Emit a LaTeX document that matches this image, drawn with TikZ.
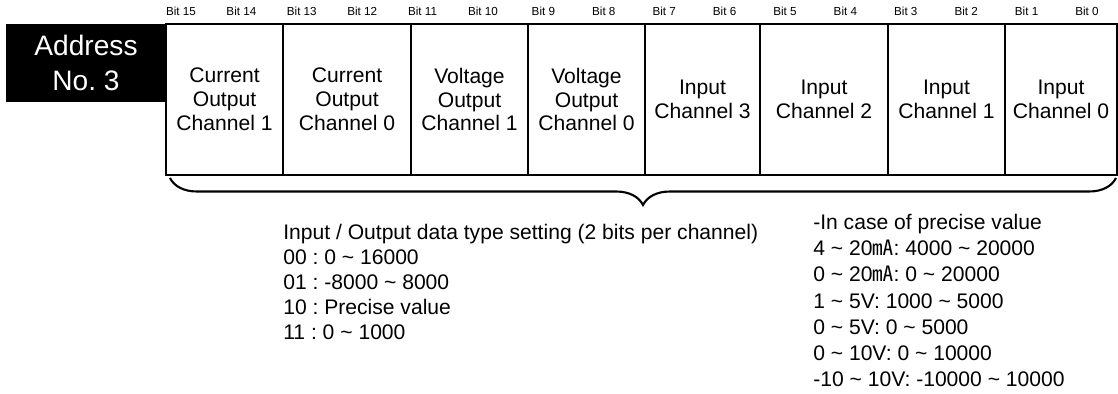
\documentclass[tikz,border=0pt]{standalone}
\usepackage{fontspec}
\setmainfont{Liberation Sans}
\newfontfamily\cjk{Noto Sans CJK KR}
\usetikzlibrary{decorations.pathreplacing}
\frenchspacing

\begin{document}
\begin{tikzpicture}[
    x=0.025cm, y=-0.025cm,
    regCellStyle/.style={draw, line width=0.8pt, inner sep=0pt, align=center,
        minimum height=151*0.025cm, font=\fontsize{15}{17}\selectfont},
    regBitStyle/.style={inner sep=0pt, font=\fontsize{8.3}{9}\selectfont},
    regAddrStyle/.style={fill=black, text=white, inner sep=0pt, align=center,
        minimum width=160*0.025cm, minimum height=78*0.025cm,
        font=\fontsize{20}{25}\selectfont},
    regNoteStyle/.style={align=left, inner sep=0pt, anchor=north west},
    regBraceStyle/.style={decorate, decoration={brace, mirror, amplitude=0.675cm},
        line width=1.5pt}
]
    \useasboundingbox (0,0) rectangle (1118,394);

    % --- Address ---
    \node[regAddrStyle] (addr) at (86,63) {Address\\No. 3};

    % --- register cells ---
    \foreach \l/\r/\txt [count=\i] in {
        166/283/{Current\\Output\\Channel 1},
        283/411/{Current\\Output\\Channel 0},
        411/528/{Voltage\\Output\\Channel 1},
        528/645/{Voltage\\Output\\Channel 0},
        645/760/{Input\\Channel 3},
        760/888/{Input\\Channel 2},
        888/1005/{Input\\Channel 1},
        1005/1117/{Input\\Channel 0}} {
        \pgfmathsetmacro\w{(\r-\l)*0.025}
        \node[regCellStyle, minimum width=\w cm] (cell\i) at ({(\l+\r)/2},99.5) {\txt};
    }

    % bit numbers
    \foreach \b in {0,...,15}
        \node[regBitStyle] (bit\b) at ({1087-60.4*\b},11) {Bit \b};

    % brace
    \coordinate (braceL) at (170,178);
    \coordinate (braceR) at (1116,178);
    \draw[regBraceStyle] (braceL) -- (braceR);

    % --- notes ---
    \node[regNoteStyle, font=\fontsize{15}{17.8}\selectfont] (typeNote) at (283,224)
        {Input / Output data type setting (2 bits per channel)\\
         00 : 0 \textasciitilde{} 16000\\
         01 : -8000 \textasciitilde{} 8000\\
         10 : Precise value\\
         11 : 0 \textasciitilde{} 1000};
    \node[regNoteStyle, font=\fontsize{15}{18.6}\selectfont] (rangeNote) at (813,214)
        {-In case of precise value\\
         4 \textasciitilde{} 20{\cjk ㎃}: 4000 \textasciitilde{} 20000\\
         0 \textasciitilde{} 20{\cjk ㎃}: 0 \textasciitilde{} 20000\\
         1 \textasciitilde{} 5V: 1000 \textasciitilde{} 5000\\
         0 \textasciitilde{} 5V: 0 \textasciitilde{} 5000\\
         0 \textasciitilde{} 10V: 0 \textasciitilde{} 10000\\
         -10 \textasciitilde{} 10V: -10000 \textasciitilde{} 10000};
\end{tikzpicture}
\end{document}
